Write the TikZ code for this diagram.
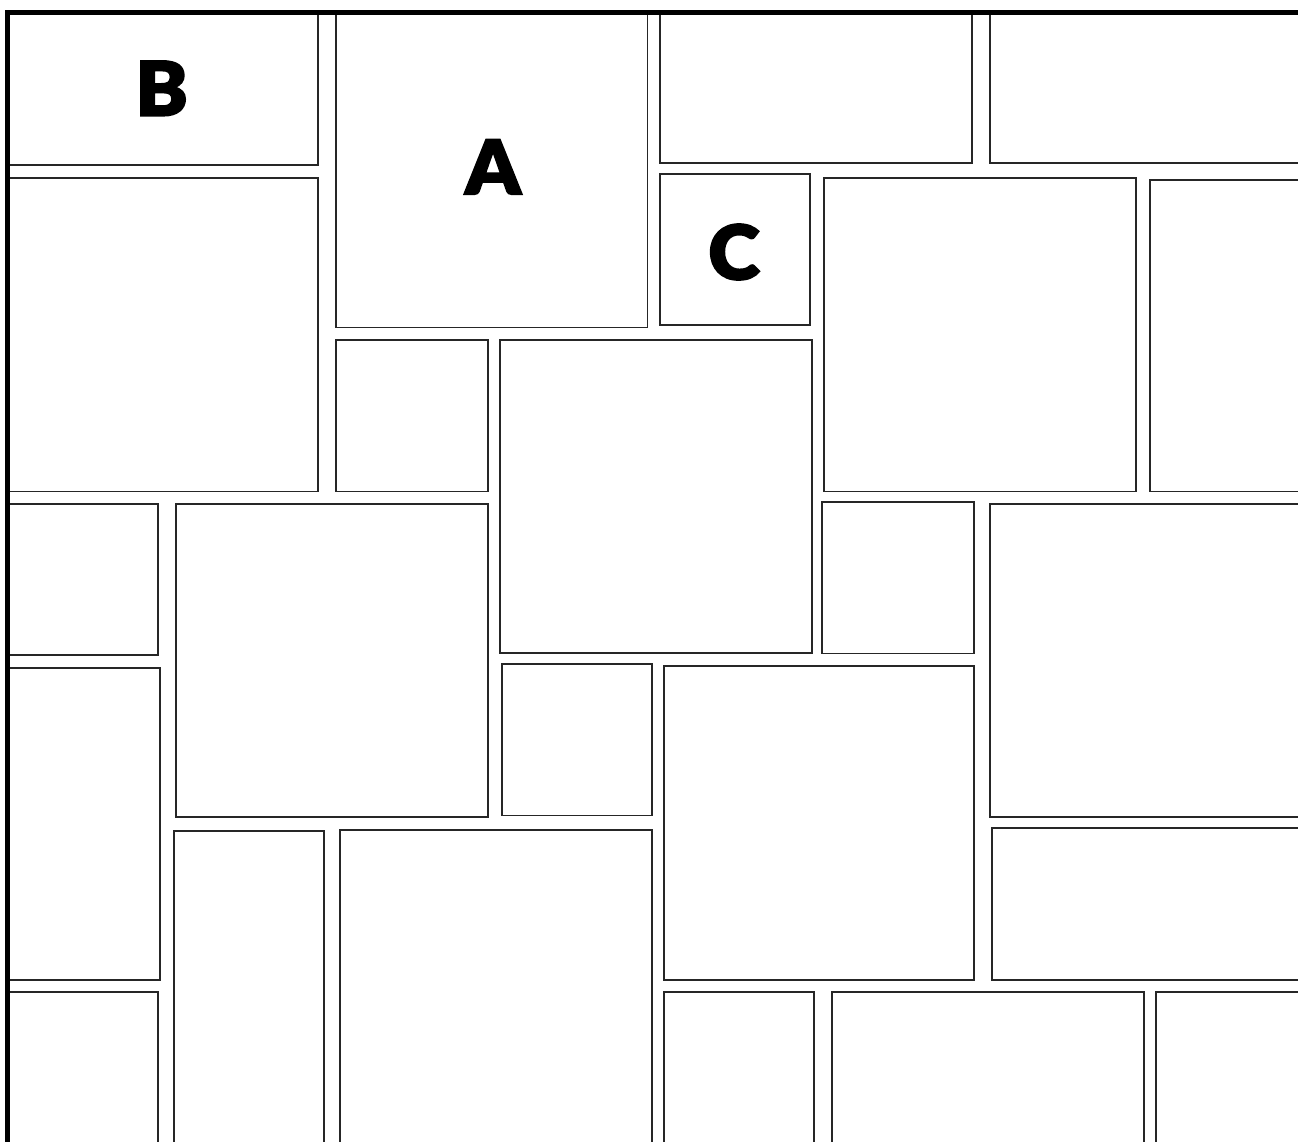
\documentclass[tikz,border=0pt]{standalone}
\usepackage{fontspec}
\newfontfamily\heavy{Lato Black}[FakeBold=2.5,FakeStretch=1.04]
\begin{document}
\begin{tikzpicture}[x=1pt,y=-1pt,
  panel/.style={draw=black!85,line width=1.9pt},
  letter/.style={font=\heavy\fontsize{75}{75}\selectfont,inner sep=0pt,anchor=center}]
\useasboundingbox (0,0) rectangle (1298,1141);
\fill[white] (0,0) rectangle (1298,1141);
\begin{scope}
\clip (0,0) rectangle (1298,1141);
\draw[panel] (8,12) rectangle (318,165);
\draw[panel] (336,12) rectangle (647.5,327.5);
\draw[panel] (660,12) rectangle (972,163);
\draw[panel] (990,12) rectangle (1310,163);
\draw[panel] (660,174) rectangle (810,325);
\draw[panel] (8,178) rectangle (318,491.5);
\draw[panel] (824,178) rectangle (1136,491.5);
\draw[panel] (1150,180) rectangle (1310,491.5);
\draw[panel] (336,340) rectangle (488,491.5);
\draw[panel] (500,340) rectangle (812,653);
\draw[panel] (8,504) rectangle (158,655);
\draw[panel] (176,504) rectangle (488,817);
\draw[panel] (822,502) rectangle (974,653.5);
\draw[panel] (990,504) rectangle (1310,817);
\draw[panel] (502,664) rectangle (652,815.5);
\draw[panel] (8,668) rectangle (160,980);
\draw[panel] (664,666) rectangle (974,980);
\draw[panel] (992,828) rectangle (1310,980);
\draw[panel] (8,992) rectangle (158,1160);
\draw[panel] (174,831) rectangle (324,1160);
\draw[panel] (340,830) rectangle (652,1160);
\draw[panel] (664,992) rectangle (814,1160);
\draw[panel] (832,992) rectangle (1144,1160);
\draw[panel] (1156,992) rectangle (1310,1160);
\draw[line width=4.5pt,black] (7.5,1160) -- (7.5,12.5) -- (1310,12.5);
\end{scope}
\node[letter] (lb) at (161.7,88.3) {B};
\node[letter] (la) at (493,166.8) {A};
\node[letter] (lc) at (734,252) {C};
\end{tikzpicture}
\end{document}
